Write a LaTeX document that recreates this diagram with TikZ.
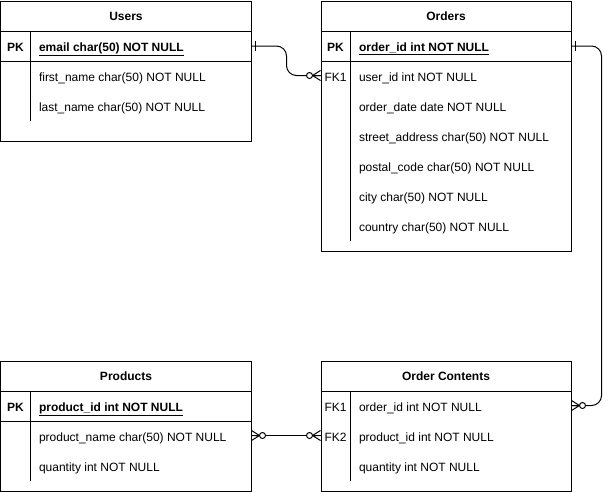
\documentclass[tikz,border=0pt]{standalone}
\usepackage{fontspec}
\setmainfont{Liberation Sans}
\usepackage{tikz}
\usetikzlibrary{arrows.meta, positioning}
\def\tf{\fontsize{12}{14}\selectfont}

\tikzset{
  tbl/.style={draw, minimum width=250pt, inner sep=0pt, anchor=north west},
  hdr/.style={tbl, minimum height=30pt, font=\tf\bfseries},
  field/.style={anchor=west, inner sep=0pt, text height=11pt, text depth=0pt, font=\tf},
  key/.style={inner sep=0pt, text height=11pt, text depth=0pt, font=\tf},
  rel/.style={rounded corners=10pt},
  zeromany/.pic={\draw (0,-5) -- (8,0) -- (0,5) (0,0) -- (8,0);
    \draw[fill=white] (11,0) circle[radius=3pt];},
  onebar/.pic={\draw (4,-5) -- (4,5);}
}

\begin{document}
\begin{tikzpicture}[x=1pt, y=-1pt, line width=1pt]
          \useasboundingbox (-0.5,-0.5) rectangle (609.5,490.5);
          % Users
          \node[tbl, minimum height=140pt] (users) at (0,0) {};
          \node[hdr] (usersHead) at (0,0) {Users};
          \node[tbl, minimum height=30pt] (usersPK) at (0,30) {};
          \draw (30,30) -- (30,120);
          \node[key, font=\tf\bfseries] (usersPKlbl) at (15,45) {PK};
          \node[field, font=\tf\bfseries] (usersEmail) at (38,45) {\underline{email char(50) NOT NULL}};
          \foreach \t [count=\i] in {first\_name char(50) NOT NULL, last\_name char(50) NOT NULL}
            \node[field] (users-\i) at (38,45+30*\i) {\t};
          % Orders
          \node[tbl, minimum height=250pt] (orders) at (320,0) {};
          \node[hdr] (ordersHead) at (320,0) {Orders};
          \node[tbl, minimum height=30pt] (ordersPK) at (320,30) {};
          \draw (350,30) -- (350,240);
          \node[key, font=\tf\bfseries] (ordersPKlbl) at (335,45) {PK};
          \node[field, font=\tf\bfseries] (ordersId) at (358,45) {\underline{order\_id int NOT NULL}};
          \node[key] (ordersFKlbl) at (335,75) {FK1};
          \foreach \t [count=\i] in {user\_id int NOT NULL, order\_date date NOT NULL, street\_address char(50) NOT NULL, postal\_code char(50) NOT NULL, city char(50) NOT NULL, country char(50) NOT NULL}
            \node[field] (orders-\i) at (358,45+30*\i) {\t};
          % Products
          \node[tbl, minimum height=130pt] (products) at (0,360) {};
          \node[hdr] (productsHead) at (0,360) {Products};
          \node[tbl, minimum height=30pt] (productsPK) at (0,390) {};
          \draw (30,390) -- (30,480);
          \node[key, font=\tf\bfseries] (productsPKlbl) at (15,405) {PK};
          \node[field, font=\tf\bfseries] (productsId) at (38,405) {\underline{product\_id int NOT NULL}};
          \foreach \t [count=\i] in {product\_name char(50) NOT NULL, quantity int NOT NULL}
            \node[field] (products-\i) at (38,405+30*\i) {\t};
          % Order Contents
          \node[tbl, minimum height=130pt] (contents) at (320,360) {};
          \node[hdr] (contentsHead) at (320,360) {Order Contents};
          \draw (350,390) -- (350,480);
          \node[key] (contentsFK1) at (335,405) {FK1};
          \node[key] (contentsFK2) at (335,435) {FK2};
          \foreach \t [count=\i] in {order\_id int NOT NULL, product\_id int NOT NULL, quantity int NOT NULL}
            \node[field] (contents-\i) at (358,375+30*\i) {\t};
          % Relations
          \draw[rel] (usersPK.east) -- ++(35,0) |- (orders.west |- orders-1);
          \pic at (usersPK.east) {onebar};
          \pic[rotate=180] at (orders.west |- orders-1) {zeromany};
          \draw[rel] (ordersPK.east) -- ++(30,0) |- (contents.east |- contents-1);
          \pic at (ordersPK.east) {onebar};
          \pic at (contents.east |- contents-1) {zeromany};
          \draw (products.east |- products-1) -- (contents.west |- contents-2);
          \pic at (products.east |- products-1) {zeromany};
          \pic[rotate=180] at (contents.west |- contents-2) {zeromany};
        \end{tikzpicture}
\end{document}
